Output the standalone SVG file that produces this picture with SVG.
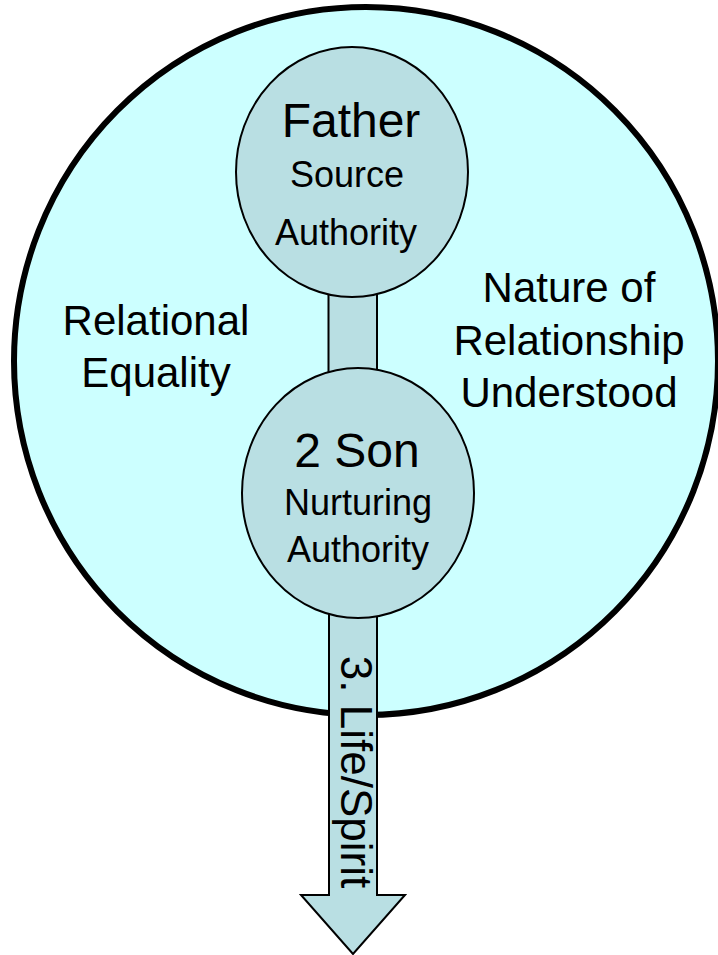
<svg xmlns="http://www.w3.org/2000/svg" width="718" height="955" viewBox="0 0 718 955">
<style>
text{font-family:"Liberation Sans",Arial,sans-serif;fill:#000;text-anchor:middle}
.node{fill:#B9DFE3;stroke:#000;stroke-width:2}
.big{font-size:48px}
.sub{font-size:36px}
.lbl{font-size:42px}
</style>
<rect width="718" height="955" fill="#fff"/>
<g id="outer">
<ellipse cx="366" cy="361" rx="352" ry="354" fill="#CCFFFF" stroke="#000" stroke-width="6"/>
</g>
<g id="connectors">
<rect x="328.500" y="280" width="48.500" height="100" fill="#B9DFE3" stroke="#000" stroke-width="2"/>
<polygon points="329,590 377,590 377,895 405,895 353,954 301,895 329,895" fill="#B9DFE3" stroke="#000" stroke-width="2" stroke-linejoin="miter"/>
<text transform="translate(341,772) rotate(90)" style="font-size:44px">3. Life/Spirit</text>
</g>
<g id="father">
<ellipse class="node" cx="352" cy="172" rx="116" ry="125"/>
<text class="big" x="351" y="137">Father</text>
<text class="sub" x="347" y="187">Source</text>
<text class="sub" x="346" y="245">Authority</text>
</g>
<g id="son">
<ellipse class="node" cx="358" cy="493" rx="116" ry="125"/>
<text class="big" x="357" y="467">2 Son</text>
<text class="sub" x="358" y="515">Nurturing</text>
<text class="sub" x="358" y="562">Authority</text>
</g>
<g id="relational-equality">
<text class="lbl" x="156" y="335">Relational</text>
<text class="lbl" x="156" y="387">Equality</text>
</g>
<g id="nature">
<text class="lbl" x="569" y="302">Nature of</text>
<text class="lbl" x="569" y="355">Relationship</text>
<text class="lbl" x="569" y="407">Understood</text>
</g>
</svg>
